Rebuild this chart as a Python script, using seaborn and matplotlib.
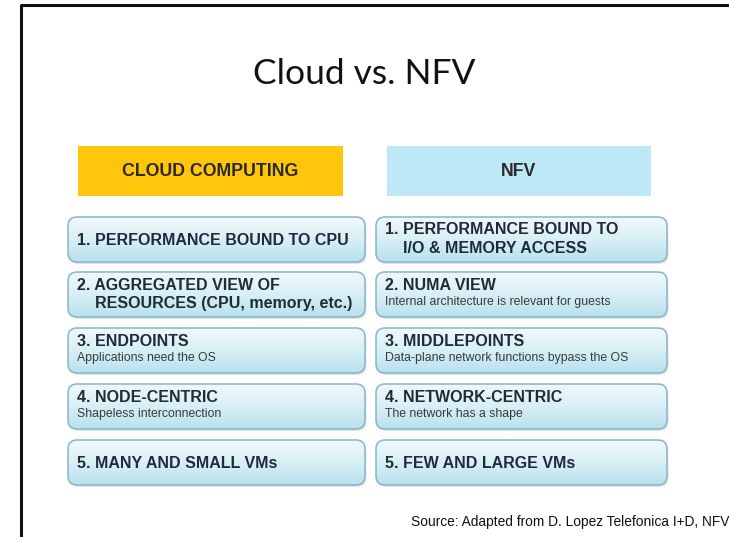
import numpy as np
import matplotlib
matplotlib.use("Agg")
import matplotlib.pyplot as plt
from matplotlib.patches import FancyBboxPatch, Rectangle
import seaborn as sns

sns.set_theme(style="white")
plt.rcParams['font.family'] = ['Liberation Sans', 'DejaVu Sans']

title = "Cloud vs. NFV"
headers = ["CLOUD COMPUTING", "NFV"]
header_colors = ["#FFC60B", "#BDE9F7"]

left_titles = ["1. PERFORMANCE BOUND TO CPU",
               "2. AGGREGATED VIEW OF\n    RESOURCES (CPU, memory, etc.)",
               "3. ENDPOINTS",
               "4. NODE-CENTRIC",
               "5. MANY AND SMALL VMs"]
left_subs = ["", "", "Applications need the OS", "Shapeless interconnection", ""]
right_titles = ["1. PERFORMANCE BOUND TO\n    I/O & MEMORY ACCESS",
                "2. NUMA VIEW",
                "3. MIDDLEPOINTS",
                "4. NETWORK-CENTRIC",
                "5. FEW AND LARGE VMs"]
right_subs = ["", "Internal architecture is relevant for guests",
              "Data-plane network functions bypass the OS",
              "The network has a shape", ""]
source = "Source: Adapted from D. Lopez Telefonica I+D, NFV"

W, H = 729, 537
fig = plt.figure(figsize=(W / 100, H / 100), dpi=100)
fig.patch.set_facecolor("white")
ax = fig.add_axes([0, 0, 1, 1])
ax.set_xlim(0, W)
ax.set_ylim(H, 0)
ax.axis("off")

# slide frame
ax.plot([21, 21, W + 5], [H + 5, 4.5, 4.5], color="#111111", lw=2.2, solid_capstyle="butt")

ax.text(364, 74, title, ha="center", va="center", fontsize=25.5,
        family=["Lato", "DejaVu Sans"], color="#111111")

# headers
hx = [(78, 343), (387, 651)]
for (x0, x1), lab, col in zip(hx, headers, header_colors):
    ax.add_patch(Rectangle((x0, 146), x1 - x0, 50, facecolor=col, edgecolor="none"))
    ax.text((x0 + x1) / 2, 171.5, lab, ha="center", va="center", fontsize=12.8,
            fontweight="bold", color="#2A2A2A")

grad = np.linspace(0, 1, 64).reshape(-1, 1)
cmap = matplotlib.colors.LinearSegmentedColormap.from_list("g", ["#F0F8FA", "#D8EFF6", "#B8E1EF"])

col_x = [(68, 365), (376, 667)]
row_y0 = [217, 272, 328, 384, 440]
bh = 45


def draw_box(x0, x1, y0):
    sh = FancyBboxPatch((x0 + 1.5, y0 + 2), x1 - x0, bh, boxstyle="round,pad=0,rounding_size=9",
                        facecolor="#C8D6DC", edgecolor="none", alpha=0.6)
    ax.add_patch(sh)
    p = FancyBboxPatch((x0, y0), x1 - x0, bh, boxstyle="round,pad=0,rounding_size=9",
                       facecolor="none", edgecolor="#86B6C6", lw=1.1)
    ax.add_patch(p)
    im = ax.imshow(grad, extent=(x0, x1, y0 + bh, y0), aspect="auto", cmap=cmap,
                   origin="upper", zorder=1)
    im.set_clip_path(p)
    p.set_zorder(2)


for r, y0 in enumerate(row_y0):
    for c, (x0, x1) in enumerate(col_x):
        draw_box(x0, x1, y0)
        t = (left_titles if c == 0 else right_titles)[r]
        s = (left_subs if c == 0 else right_subs)[r]
        tx = x0 + 9
        if "\n" in t:
            l1, l2 = t.split("\n")
            ax.text(tx, y0 + 13, l1, ha="left", va="center", fontsize=11.5,
                    fontweight="bold", color="#1E2B38", zorder=3)
            ax.text(tx, y0 + 31.5, l2, ha="left", va="center", fontsize=11.5,
                    fontweight="bold", color="#1E2B38", zorder=3)
        elif s:
            ax.text(tx, y0 + 13.5, t, ha="left", va="center", fontsize=11.5,
                    fontweight="bold", color="#1E2B38", zorder=3)
            ax.text(tx, y0 + 30.5, s, ha="left", va="center", fontsize=8.8,
                    color="#3A3A3A", zorder=3)
        else:
            ax.text(tx, y0 + bh / 2 + 1, t, ha="left", va="center", fontsize=11.5,
                    fontweight="bold", color="#1E2B38", zorder=3)

ax.text(729, 522, source, ha="right", va="center", fontsize=9.9, color="#111111")

fig.savefig("out.png", dpi=100, facecolor="white")
